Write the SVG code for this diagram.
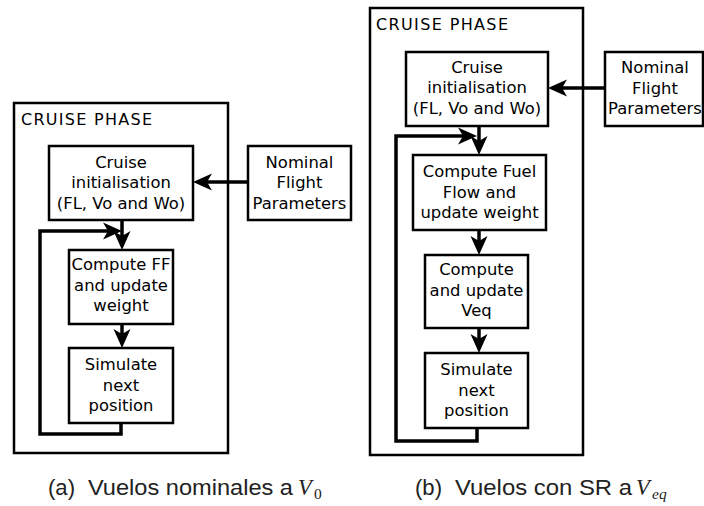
<svg xmlns="http://www.w3.org/2000/svg" width="704" height="506" viewBox="0 0 704 506">
<style>
.box{fill:#fff;stroke:#000;stroke-width:2.5}
.panel{fill:none;stroke:#000;stroke-width:2.5}
.t{font-family:"DejaVu Sans",sans-serif;font-size:16.4px;fill:#000;text-anchor:middle}
.ph{font-family:"DejaVu Sans",sans-serif;font-size:16px;fill:#000}
.cap{font-family:"Liberation Sans",Arial,sans-serif;font-size:22.5px;fill:#222}
.m{font-family:"Liberation Serif","Times New Roman",serif;font-style:italic;font-size:22.5px;fill:#222}
.sub{font-family:"Liberation Serif","Times New Roman",serif;font-size:15.5px;fill:#222}
.c{fill:none;stroke:#000;stroke-width:3.5;stroke-linejoin:miter}
</style>
<defs>
<marker id="ah" markerUnits="userSpaceOnUse" viewBox="-20 -10 21 20" markerWidth="21" markerHeight="20" refX="-10" refY="0" orient="auto">
<path d="M0,0 L-19,-8.5 L-14,0 L-19,8.5 z" fill="#000"/>
</marker>
</defs>

<!-- Panel (a) -->
<g id="panelA">
<rect class="panel" x="14" y="103" width="214" height="350"/>
<text class="ph" x="21" y="125" textLength="131" lengthAdjust="spacing">CRUISE PHASE</text>
</g>
<g id="a_init">
<rect class="box" x="49" y="146" width="144" height="74"/>
<text class="t" x="121" y="167.5">Cruise</text>
<text class="t" x="121" y="188">initialisation</text>
<text class="t" x="121" y="208.5">(FL, Vo and Wo)</text>
</g>
<g id="a_nominal">
<rect class="box" x="248" y="146" width="103" height="74"/>
<text class="t" x="299.5" y="167.5">Nominal</text>
<text class="t" x="299.5" y="188">Flight</text>
<text class="t" x="299.5" y="208.5">Parameters</text>
</g>
<g id="a_ff">
<rect class="box" x="69" y="250" width="104" height="74"/>
<text class="t" x="121" y="270">Compute FF</text>
<text class="t" x="121" y="290.5">and update</text>
<text class="t" x="121" y="311">weight</text>
</g>
<g id="a_sim">
<rect class="box" x="69" y="348" width="104" height="75"/>
<text class="t" x="121" y="370">Simulate</text>
<text class="t" x="121" y="390.5">next</text>
<text class="t" x="121" y="411">position</text>
</g>

<!-- Panel (b) -->
<g id="panelB">
<rect class="panel" x="370" y="8" width="213" height="447"/>
<text class="ph" x="376" y="30" textLength="132" lengthAdjust="spacing">CRUISE PHASE</text>
</g>
<g id="b_init">
<rect class="box" x="406" y="52" width="142" height="74"/>
<text class="t" x="477" y="72.5">Cruise</text>
<text class="t" x="477" y="93">initialisation</text>
<text class="t" x="477" y="113.5">(FL, Vo and Wo)</text>
</g>
<g id="b_nominal">
<rect class="box" x="605" y="52" width="98" height="74"/>
<text class="t" x="655" y="73">Nominal</text>
<text class="t" x="655" y="93.5">Flight</text>
<text class="t" x="655" y="114">Parameters</text>
</g>
<g id="b_ff">
<rect class="box" x="413" y="155" width="133" height="75"/>
<text class="t" x="479.5" y="177">Compute Fuel</text>
<text class="t" x="479.5" y="197.5">Flow and</text>
<text class="t" x="479.5" y="218">update weight</text>
</g>
<g id="b_veq">
<rect class="box" x="425" y="255" width="103" height="73"/>
<text class="t" x="476.5" y="275">Compute</text>
<text class="t" x="476.5" y="295.5">and update</text>
<text class="t" x="476.5" y="316">Veq</text>
</g>
<g id="b_sim">
<rect class="box" x="425" y="353" width="103" height="75"/>
<text class="t" x="476.5" y="375">Simulate</text>
<text class="t" x="476.5" y="395.5">next</text>
<text class="t" x="476.5" y="416">position</text>
</g>

<!-- Connectors -->
<g id="connectors">
<path class="c" d="M248,182 H203" marker-end="url(#ah)"/>
<path class="c" d="M122,220 V240" marker-end="url(#ah)"/>
<path class="c" d="M122,324 V338" marker-end="url(#ah)"/>
<path class="c" d="M121,423 V434 H40 V231 H112" marker-end="url(#ah)"/>
<path class="c" d="M605,88 H558" marker-end="url(#ah)"/>
<path class="c" d="M479,126 V145" marker-end="url(#ah)"/>
<path class="c" d="M479,230 V245" marker-end="url(#ah)"/>
<path class="c" d="M479,328 V343" marker-end="url(#ah)"/>
<path class="c" d="M477,428 V441 H396 V136 H467" marker-end="url(#ah)"/>
</g>

<!-- Captions -->
<g id="captions">
<text class="cap" x="48" y="495" textLength="27" lengthAdjust="spacingAndGlyphs">(a)</text>
<text class="cap" x="88" y="495" textLength="205" lengthAdjust="spacingAndGlyphs">Vuelos nominales a</text>
<text class="m" x="298" y="495">V</text>
<text class="sub" x="314" y="499">0</text>
<text class="cap" x="415" y="495" textLength="27" lengthAdjust="spacingAndGlyphs">(b)</text>
<text class="cap" x="455" y="495" textLength="177" lengthAdjust="spacingAndGlyphs">Vuelos con SR a</text>
<text class="m" x="636" y="495">V</text>
<text class="sub" x="652" y="499" font-style="italic">eq</text>
</g>
</svg>
